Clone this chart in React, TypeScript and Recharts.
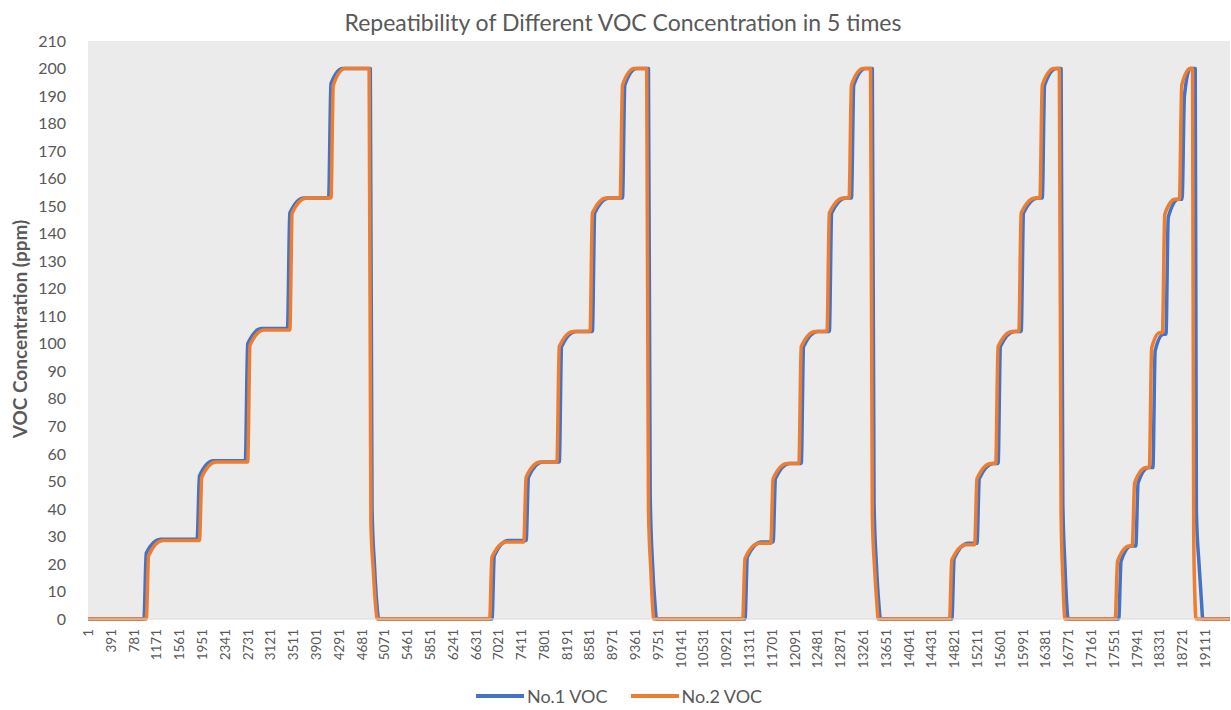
import React from "react";
import { LineChart, Line, XAxis, YAxis, CartesianGrid, Legend } from "recharts";

// Sample index (x) and VOC concentration in ppm (y).
const no1Cycle1: [number, number][] = [
  [1, 0], [958, 0], [998, 24], [1238, 29],
  [1868, 29], [1908, 52], [2148, 57.5],
  [2693, 57.5], [2733, 100], [2973, 105.5],
  [3414, 105.5], [3454, 147.5], [3694, 153],
  [4118, 153], [4158, 194.5], [4360, 200],
  [4831, 200], [4861, 40], [4901, 20], [4941, 6], [4976, 0],
];
const no1Cycle2: [number, number][] = [
  [6913, 0], [6953, 23], [7193, 28.5],
  [7497, 28.5], [7537, 51.5], [7777, 57],
  [8064, 57], [8104, 99], [8344, 104.5],
  [8631, 104.5], [8671, 147.5], [8911, 153],
  [9146, 153], [9186, 194], [9388, 200],
  [9590, 200], [9620, 45], [9660, 20], [9700, 6], [9730, 0],
];
const no1Cycle3: [number, number][] = [
  [11242, 0], [11282, 22.5], [11522, 28],
  [11723, 28], [11763, 51], [12003, 56.5],
  [12204, 56.5], [12244, 99], [12484, 104.5],
  [12685, 104.5], [12725, 147.5], [12965, 153],
  [13063, 153], [13103, 194], [13305, 200],
  [13420, 200], [13450, 42], [13490, 20], [13530, 6], [13560, 0],
];
const no1Cycle4: [number, number][] = [
  [14781, 0], [14821, 22], [15061, 27.5],
  [15211, 27.5], [15251, 51], [15491, 56.5],
  [15572, 56.5], [15612, 99], [15852, 104.5],
  [15967, 104.5], [16007, 147.5], [16247, 153],
  [16328, 153], [16368, 194], [16570, 200],
  [16650, 200], [16680, 42], [16715, 20], [16745, 6], [16770, 0],
];
const no1Cycle5: [number, number][] = [
  [17636, 0], [17676, 21], [17850, 26.5],
  [17928, 26.5], [17968, 49.5], [18150, 55],
  [18220, 55], [18260, 97.5], [18400, 103.5],
  [18444, 103.5], [18484, 146], [18660, 152.5],
  [18720, 152.5], [18760, 190], [18860, 200],
  [18945, 200], [18965, 39], [19010, 20], [19050, 7], [19075, 0],
  [19540, 0],
];

const no2Cycle1: [number, number][] = [
  [1, 0], [998, 0], [1038, 23], [1278, 28.5],
  [1908, 28.5], [1948, 51.5], [2188, 57],
  [2733, 57], [2773, 99.5], [3013, 105],
  [3454, 105], [3494, 147.5], [3734, 153],
  [4158, 153], [4198, 194], [4400, 200],
  [4811, 200], [4841, 35], [4881, 18], [4921, 5], [4951, 0],
];
const no2Cycle2: [number, number][] = [
  [6873, 0], [6913, 22.5], [7153, 28],
  [7457, 28], [7497, 51.5], [7737, 57],
  [8024, 57], [8064, 99], [8304, 104.5],
  [8591, 104.5], [8631, 147.5], [8871, 153],
  [9106, 153], [9146, 194], [9348, 200],
  [9560, 200], [9590, 40], [9630, 18], [9660, 5], [9680, 0],
];
const no2Cycle3: [number, number][] = [
  [11202, 0], [11242, 22], [11482, 27.5],
  [11683, 27.5], [11723, 51], [11963, 56.5],
  [12164, 56.5], [12204, 99], [12444, 104.5],
  [12645, 104.5], [12685, 147.5], [12925, 153],
  [13023, 153], [13063, 194], [13265, 200],
  [13390, 200], [13420, 38], [13460, 18], [13500, 5], [13520, 0],
];
const no2Cycle4: [number, number][] = [
  [14741, 0], [14781, 21.5], [15021, 27],
  [15171, 27], [15211, 51], [15451, 56.5],
  [15532, 56.5], [15572, 99], [15812, 104.5],
  [15927, 104.5], [15967, 147.5], [16207, 153],
  [16288, 153], [16328, 194], [16530, 200],
  [16620, 200], [16650, 38], [16680, 15], [16700, 4], [16715, 0],
];
const no2Cycle5: [number, number][] = [
  [17576, 0], [17616, 21], [17816, 26.5],
  [17868, 26.5], [17908, 49.5], [18108, 55],
  [18160, 55], [18200, 98.5], [18340, 104],
  [18384, 104], [18424, 147], [18600, 152.5],
  [18675, 152.5], [18715, 194], [18860, 200],
  [18899, 200], [18919, 30], [18939, 8], [18960, 0],
  [19540, 0],
];

const xTickLabels: number[] = [
  1, 391, 781, 1171, 1561, 1951, 2341, 2731, 3121, 3511, 3901, 4291, 4681,
  5071, 5461, 5851, 6241, 6631, 7021, 7411, 7801, 8191, 8581, 8971, 9361,
  9751, 10141, 10531, 10921, 11311, 11701, 12091, 12481, 12871, 13261, 13651,
  14041, 14431, 14821, 15211, 15601, 15991, 16381, 16771, 17161, 17551,
  17941, 18331, 18721, 19111,
];
const yTicks: number[] = [
  0, 10, 20, 30, 40, 50, 60, 70, 80, 90, 100, 110, 120, 130, 140, 150, 160,
  170, 180, 190, 200, 210,
];

const seriesNames = ["No.1 VOC", "No.2 VOC"];
const seriesColors = ["#4472C4", "#ED7D31"];

const toPoints = (cycles: [number, number][][]) =>
  cycles.flat().map(([x, y]) => ({ x, y }));

const no1Data = toPoints([no1Cycle1, no1Cycle2, no1Cycle3, no1Cycle4, no1Cycle5]);
const no2Data = toPoints([no2Cycle1, no2Cycle2, no2Cycle3, no2Cycle4, no2Cycle5]);

const FONT = "Lato, 'Liberation Sans', sans-serif";
const TEXT = "#595959";

const XTick = (props: any) => {
  const { x, y, payload } = props;
  return (
    <g transform={`translate(${x},${y + 10})`}>
      <text
        x={0}
        y={0}
        dy={5}
        transform="rotate(-90)"
        textAnchor="end"
        fontSize={13.5}
        fontFamily={FONT}
        fill={TEXT}
      >
        {payload.value}
      </text>
    </g>
  );
};

const YTitle = (props: any) => {
  const vb = props.viewBox || { x: 0, y: 41, width: 88, height: 578 };
  const cx = 19;
  const cy = vb.y + vb.height / 2 - 1;
  return (
    <text
      x={cx}
      y={cy}
      transform={`rotate(-90 ${cx} ${cy})`}
      textAnchor="middle"
      dominantBaseline="central"
      fontSize={19}
      fontWeight="bold"
      fontFamily={FONT}
      fill={TEXT}
    >
      VOC Concentration (ppm)
    </text>
  );
};

const LegendContent = () => (
  <div
    style={{
      display: "flex",
      justifyContent: "center",
      alignItems: "center",
      height: 30,
      fontFamily: FONT,
      fontSize: 18,
      color: TEXT,
      paddingLeft: 7,
    }}
  >
    {seriesNames.map((name, i) => (
      <div key={name} style={{ display: "flex", alignItems: "center", marginRight: i === 0 ? 23 : 0 }}>
        <div style={{ width: 48, height: 4, background: seriesColors[i], marginRight: 3 }} />
        <span>{name}</span>
      </div>
    ))}
  </div>
);

export default function App() {
  return (
    <div
      style={{
        position: "absolute",
        left: 0,
        top: 0,
        width: 1231,
        height: 710,
        background: "#ffffff",
        fontFamily: FONT,
      }}
    >
      <div
        style={{
          position: "absolute",
          left: 623,
          top: 7,
          transform: "translateX(-50%)",
          whiteSpace: "nowrap",
          fontSize: 23,
          color: TEXT,
          fontFamily: FONT,
          lineHeight: "30px",
        }}
      >
        Repeatibility of Different VOC Concentration in 5 times
      </div>
      <LineChart
        width={1231}
        height={710}
        margin={{ top: 41, right: 1, bottom: 0, left: 0 }}
      >
        <CartesianGrid fill="#ebebeb" horizontal={false} vertical={false} stroke="none" />
        <XAxis
          type="number"
          dataKey="x"
          domain={[1, 19540]}
          ticks={xTickLabels}
          interval={0}
          allowDataOverflow
          height={61}
          tickLine={false}
          tickSize={0}
          tickMargin={0}
          axisLine={{ stroke: "#d9d9d9", strokeWidth: 1 }}
          tick={<XTick />}
        />
        <YAxis
          type="number"
          dataKey="y"
          domain={[0, 210]}
          ticks={yTicks}
          interval={0}
          width={88}
          axisLine={false}
          tickLine={false}
          tickSize={0}
          tickMargin={22}
          tick={{ fontSize: 16, fontFamily: FONT, fill: TEXT }}
          label={{ content: <YTitle /> }}
        />
        <Legend
          verticalAlign="bottom"
          height={30}
          content={<LegendContent />}
          wrapperStyle={{ top: 681, left: 0, width: 1231, bottom: "auto" }}
        />
        <Line
          data={no1Data}
          dataKey="y"
          name={seriesNames[0]}
          type="monotoneX"
          stroke={seriesColors[0]}
          strokeWidth={3.5}
          strokeLinejoin="round"
          dot={false}
          activeDot={false}
          isAnimationActive={false}
        />
        <Line
          data={no2Data}
          dataKey="y"
          name={seriesNames[1]}
          type="monotoneX"
          stroke={seriesColors[1]}
          strokeWidth={3.5}
          strokeLinejoin="round"
          dot={false}
          activeDot={false}
          isAnimationActive={false}
        />
      </LineChart>
    </div>
  );
}
